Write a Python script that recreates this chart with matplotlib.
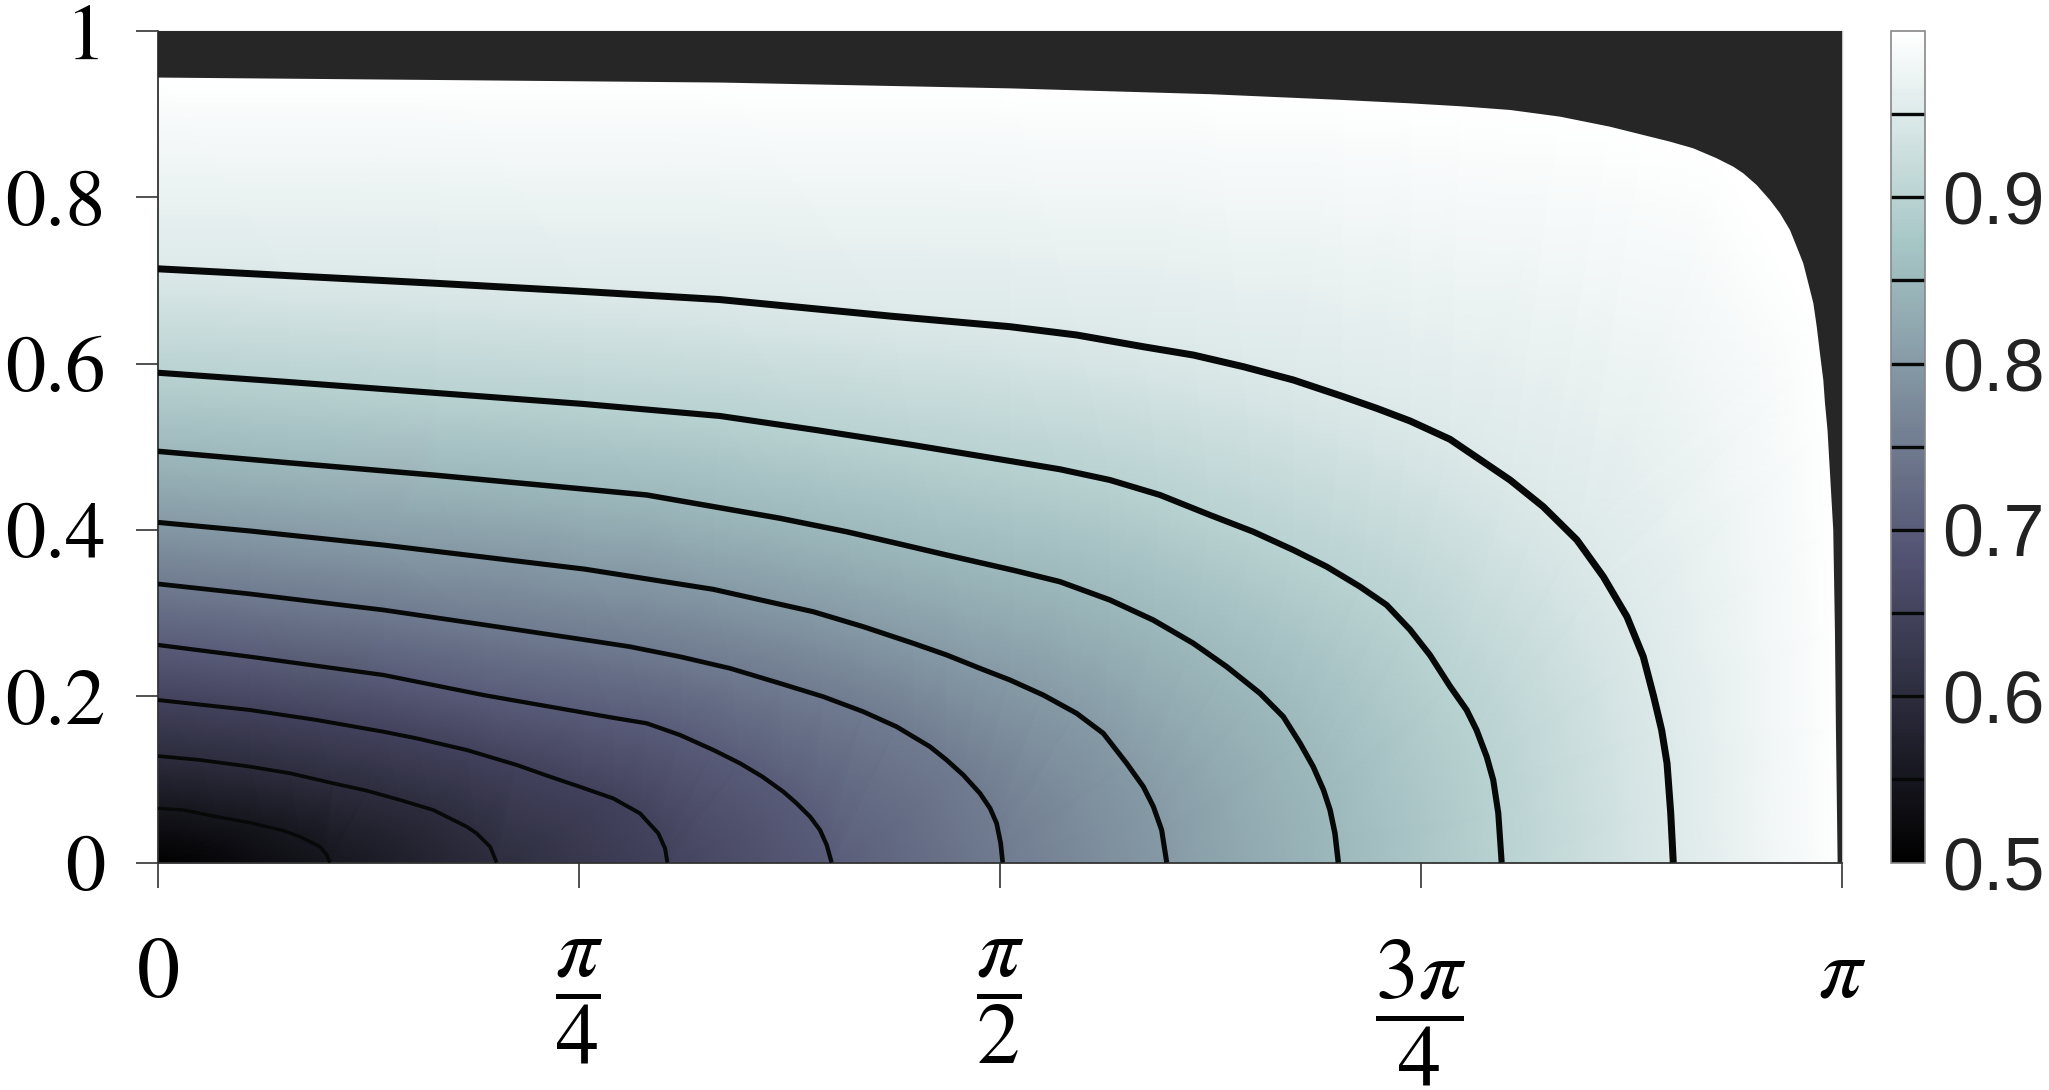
import numpy as np
import matplotlib
matplotlib.use("Agg")
import matplotlib.pyplot as plt
import matplotlib.tri as mtri

plt.rcParams['mathtext.fontset'] = 'stix'
plt.rcParams['font.family'] = ['STIXGeneral', 'DejaVu Serif']

# contour levels drawn as black lines
LEVELS = [0.55, 0.60, 0.65, 0.70, 0.75, 0.80, 0.85, 0.90, 0.95]
LINE_PX = [3.4, 3.7, 4.0, 4.3, 4.7, 5.1, 5.5, 6.1, 7.0]

# contour lines, x in units of pi
C55_X = [0.0, 0.015, 0.0348, 0.0546, 0.0645, 0.0744, 0.0843, 0.0922, 0.0962, 0.1002, 0.1021]
C55_Y = [0.0652, 0.0631, 0.0551, 0.0479, 0.0431, 0.0383, 0.0310, 0.0231, 0.0190, 0.0090, 0.0]
C60_X = [0.0, 0.0249, 0.0546, 0.0784, 0.1041, 0.1239, 0.1437, 0.1635, 0.1734, 0.1833, 0.1892,
         0.1972, 0.2011]
C60_Y = [0.128, 0.1233, 0.1153, 0.1073, 0.0952, 0.0864, 0.0752, 0.0631, 0.0531, 0.0431, 0.0351,
         0.0190, 0.0]
C65_X = [0.0, 0.0546, 0.0942, 0.1338, 0.1536, 0.1833, 0.2130, 0.2328, 0.2506, 0.2704, 0.2862,
         0.2971, 0.3011, 0.3025]
C65_Y = [0.1954, 0.1834, 0.1714, 0.1573, 0.1493, 0.1353, 0.1173, 0.1032, 0.0910, 0.0770, 0.0591,
         0.0351, 0.0170, 0.0]
C70_X = [0.0, 0.0546, 0.1338, 0.1932, 0.2535, 0.2704, 0.2902, 0.3100, 0.3298, 0.3456, 0.3589,
         0.3713, 0.3792, 0.3872, 0.3931, 0.3971, 0.4000]
C70_Y = [0.2616, 0.2475, 0.2255, 0.2014, 0.1800, 0.1740, 0.1674, 0.1533, 0.1353, 0.1193, 0.1032,
         0.0852, 0.0712, 0.0551, 0.0391, 0.0210, 0.0]
C75_X = [0.0, 0.0546, 0.1338, 0.1932, 0.2535, 0.2803, 0.3100, 0.3397, 0.3693, 0.3951, 0.4188,
         0.4386, 0.4485, 0.4584, 0.4683, 0.4782, 0.4881, 0.4941, 0.4980, 0.5004, 0.5016]
C75_Y = [0.335, 0.323, 0.3037, 0.2860, 0.2678, 0.2595, 0.2475, 0.2335, 0.2155, 0.1994, 0.1814,
         0.1633, 0.1513, 0.1393, 0.1233, 0.1052, 0.0832, 0.0652, 0.0471, 0.0231, 0.0]
C80_X = [0.0, 0.0546, 0.1338, 0.2535, 0.3298, 0.3891, 0.4188, 0.4485, 0.4683, 0.4881, 0.5059,
         0.5257, 0.5455, 0.5613, 0.5752, 0.5851, 0.5911, 0.5960, 0.5990]
C80_Y = [0.409, 0.3987, 0.3818, 0.3528, 0.3285, 0.3016, 0.2836, 0.2636, 0.2496, 0.2335, 0.2195,
         0.2014, 0.1794, 0.1554, 0.1193, 0.0912, 0.0671, 0.0390, 0.0]
C85_X = [0.0, 0.0772, 0.165, 0.2535, 0.2902, 0.3298, 0.3693, 0.4089, 0.4386, 0.4683, 0.5090,
         0.5356, 0.5653, 0.5910, 0.6148, 0.6346, 0.6544, 0.6682, 0.6782, 0.6860, 0.6921, 0.6960,
         0.6989, 0.7009]
C85_Y = [0.4945, 0.4808, 0.4657, 0.449, 0.442, 0.428, 0.414, 0.3978, 0.3839, 0.3698, 0.3510,
         0.3377, 0.3157, 0.2916, 0.2636, 0.2355, 0.2035, 0.1754, 0.1433, 0.1152, 0.0872, 0.0631,
         0.0351, 0.0]
C90_X = [0.0, 0.0772, 0.165, 0.253, 0.3337, 0.3911, 0.4485, 0.5059, 0.5356, 0.5653, 0.5950,
         0.6247, 0.6504, 0.6742, 0.6940, 0.7138, 0.7296, 0.7435, 0.7553, 0.7672, 0.7771, 0.7830,
         0.7890, 0.7929, 0.7959, 0.7979]
C90_Y = [0.589, 0.5779, 0.5647, 0.5514, 0.537, 0.520, 0.502, 0.4829, 0.4729, 0.460, 0.442,
         0.4179, 0.3978, 0.3758, 0.3558, 0.3317, 0.3097, 0.280, 0.2495, 0.212, 0.1834, 0.1593,
         0.1273, 0.0992, 0.0592, 0.0]
C95_X = [0.0, 0.0772, 0.165, 0.253, 0.3337, 0.4355, 0.5059, 0.5455, 0.5851, 0.6148, 0.6445,
         0.6742, 0.7039, 0.7237, 0.7435, 0.7672, 0.8029, 0.8226, 0.8426, 0.8583, 0.8723, 0.8820,
         0.8882, 0.8929, 0.8961, 0.8983, 0.8998]
C95_Y = [0.714, 0.7058, 0.6966, 0.6867, 0.677, 0.657, 0.6444, 0.6344, 0.6203, 0.6103, 0.5963,
         0.5803, 0.5602, 0.5462, 0.531, 0.509, 0.460, 0.4279, 0.3879, 0.3437, 0.2956, 0.2475,
         0.1994, 0.1593, 0.1193, 0.0592, 0.0]

# edge of the dark (undefined) region, value 1 along it
EDGE_X = [0.0, 0.170, 0.334, 0.506, 0.625, 0.704, 0.7435, 0.7732, 0.803, 0.8325, 0.862, 0.882,
          0.8979, 0.9117, 0.9256, 0.9355, 0.9414, 0.9493, 0.9572, 0.9632, 0.9691, 0.9731, 0.977,
          0.980, 0.983, 0.985, 0.9869, 0.9889, 0.9899, 0.9914, 0.9948, 0.9958, 0.9964, 0.9974]
EDGE_Y = [0.944, 0.941, 0.938, 0.931, 0.924, 0.917, 0.913, 0.9095, 0.905, 0.897, 0.885, 0.8749,
          0.8669, 0.8589, 0.8469, 0.8368, 0.8288, 0.8148, 0.7967, 0.7807, 0.7607, 0.7406, 0.7206,
          0.6966, 0.6725, 0.6444, 0.6124, 0.5803, 0.5522, 0.520, 0.400, 0.279, 0.159, 0.0]
EDGE_VALUE = 1.0
ORIGIN_VALUE = 0.5

CONTOURS_X = [C55_X, C60_X, C65_X, C70_X, C75_X, C80_X, C85_X, C90_X, C95_X]
CONTOURS_Y = [C55_Y, C60_Y, C65_Y, C70_Y, C75_Y, C80_Y, C85_Y, C90_Y, C95_Y]

XTICKS = [0, np.pi / 4, np.pi / 2, 3 * np.pi / 4, np.pi]
XTICK_LABELS = ['0', r'$\dfrac{\pi}{4}$', r'$\dfrac{\pi}{2}$', r'$\dfrac{3\pi}{4}$', r'$\pi$']
YTICKS = [0, 0.2, 0.4, 0.6, 0.8, 1]
YTICK_LABELS = ['0', '0.2', '0.4', '0.6', '0.8', '1']
CBAR_TICKS = [0.5, 0.6, 0.7, 0.8, 0.9]

DARK = '#262626'
LINE = '#070808'

# points that carry a known value: every contour point, the dark edge, the origin
px, py, pv = [0.0], [0.0], [ORIGIN_VALUE]
for lev, cx, cy in zip(LEVELS, CONTOURS_X, CONTOURS_Y):
    px += list(np.array(cx) * np.pi)
    py += list(cy)
    pv += [lev] * len(cx)
px += list(np.array(EDGE_X) * np.pi)
py += list(EDGE_Y)
pv += [EDGE_VALUE] * len(EDGE_X)
tri = mtri.Triangulation(np.array(px), np.array(py))

fig = plt.figure(figsize=(20.49, 10.90), dpi=100)
ax = fig.add_axes([158 / 2049, 1 - 862.5 / 1090, 1684 / 2049, 831.5 / 1090])
mesh = ax.tripcolor(tri, np.array(pv), shading='gouraud', cmap='bone', vmin=0.5, vmax=1.0,
                    rasterized=True)

for lev, cx, cy, lw in zip(LEVELS, CONTOURS_X, CONTOURS_Y, LINE_PX):
    ax.plot(np.array(cx) * np.pi, cy, color=LINE, lw=lw * 0.72, solid_capstyle='butt',
            solid_joinstyle='round', zorder=3)

# dark region above the edge
dx = list(np.array(EDGE_X) * np.pi) + [np.pi, np.pi, 0.0]
dy = list(EDGE_Y) + [0.0, 1.0, 1.0]
ax.fill(dx, dy, color=DARK, lw=0, zorder=4)

ax.set_xlim(0, np.pi)
ax.set_ylim(0, 1)
ax.set_xticks(XTICKS)
ax.set_xticklabels(XTICK_LABELS)
ax.set_yticks(YTICKS)
ax.set_yticklabels(YTICK_LABELS)
ax.tick_params(axis='x', direction='out', length=18, width=1.2, color='#333333',
               pad=36, labelsize=62)
ax.tick_params(axis='y', direction='out', length=16, width=1.2, color='#333333',
               pad=22, labelsize=58)
for s in ['left', 'bottom']:
    ax.spines[s].set_color('#333333')
    ax.spines[s].set_linewidth(1.3)
for s in ['top', 'right']:
    ax.spines[s].set_color('#c8c8c8')
    ax.spines[s].set_linewidth(1.0)

# colorbar with the contour levels marked
cax = fig.add_axes([1891 / 2049, 1 - 862.5 / 1090, 34 / 2049, 831.5 / 1090])
cbar = fig.colorbar(mesh, cax=cax, ticks=CBAR_TICKS)
cbar.outline.set_edgecolor('#888888')
cbar.outline.set_linewidth(1.2)
for lev in LEVELS:
    cax.axhline(lev, color=LINE, lw=2.4)
cax.tick_params(length=0, pad=12)
cax.set_yticklabels([f'{t:.1f}' for t in CBAR_TICKS], family=['Liberation Sans', 'DejaVu Sans'],
                    fontsize=53, color='#222222')

fig.savefig('out.png', dpi=100, facecolor='white')
